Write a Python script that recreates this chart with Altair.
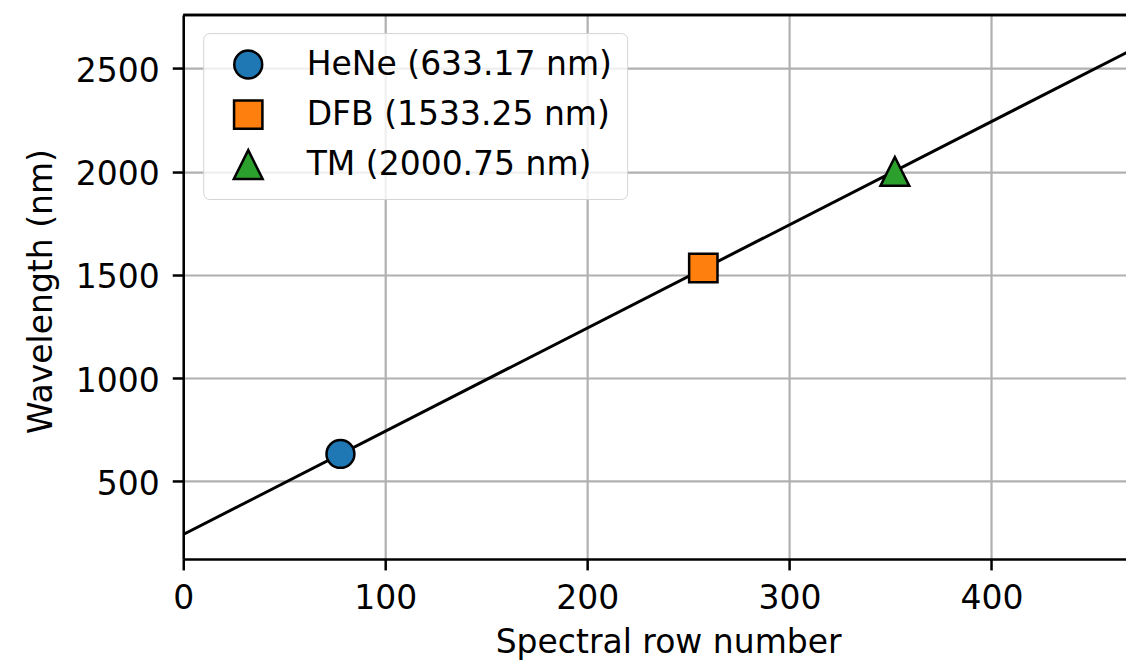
import altair as alt
import pandas as pd

# ---- data ----
names = ["HeNe", "DFB", "TM"]
wavelengths = [633.17, 1533.25, 2000.75]
rows = [77.8, 257.4, 352.2]
fit_rows = [0, 470]
fit_wavelengths = [243, 2592]
x_ticks = [0, 100, 200, 300, 400]
y_ticks = [500, 1000, 1500, 2000, 2500]
colors = ["#1f77b4", "#ff7f0e", "#2ca02c"]
shapes = ["circle", "square", "M0,-1L1,1L-1,1Z"]
sizes = [780, 830, 880]

labels = [f"{n} ({w:.2f} nm)" for n, w in zip(names, wavelengths)]
points = pd.DataFrame({"row": rows, "wl": wavelengths, "label": labels})
fit = pd.DataFrame({"row": fit_rows, "wl": fit_wavelengths})

W, H = 943, 544
FONT = "DejaVu Sans"
FS = 33

xscale = alt.Scale(domain=[0, 466.6], nice=False, zero=False)
yscale = alt.Scale(domain=[124.6, 2757.9], nice=False, zero=False)

common_axis = dict(
    labelFontSize=FS, labelFont=FONT, labelColor="black",
    tickColor="black", tickSize=11, tickWidth=2.5,
    domainColor="black", domainWidth=2.5,
    grid=True, gridColor="#b0b0b0", gridWidth=2.2,
    labelPadding=13, labelFlush=False, labelOverlap=False,
    titleFontSize=FS, titleFont=FONT, titleFontWeight="normal", titleColor="black",
    titleBaseline="alphabetic", titleAlign="center",
)

x_axis = alt.Axis(values=x_ticks, format="d", title="Spectral row number",
                  titleX=485, titleY=94, **common_axis)
y_axis = alt.Axis(values=y_ticks, format="d", title="Wavelength (nm)",
                  titleX=-132, titleY=276, titleAngle=270, labelOffset=3,
                  **common_axis)

X = alt.X("row:Q", scale=xscale, axis=x_axis)
Y = alt.Y("wl:Q", scale=yscale, axis=y_axis)

line = alt.Chart(fit).mark_line(color="black", strokeWidth=3, clip=True).encode(x=X, y=Y)

legend = alt.Legend(
    title=None, orient="none", legendX=20, legendY=18,
    padding=15, rowPadding=11, symbolOffset=13.5, labelOffset=42,
    labelFontSize=FS, labelFont=FONT, labelColor="black", labelLimit=0,
    symbolSize=800, symbolStrokeColor="black", symbolStrokeWidth=2.5,
    fillColor="rgba(255,255,255,0.8)", strokeColor="#d4d4d4",
    cornerRadius=6,
)

pts = alt.Chart(points).mark_point(
    filled=True, opacity=1, stroke="black", strokeWidth=2.5, clip=True
).encode(
    x=X, y=Y,
    color=alt.Color("label:N", scale=alt.Scale(domain=labels, range=colors), legend=legend),
    shape=alt.Shape("label:N", scale=alt.Scale(domain=labels, range=shapes), legend=legend),
    size=alt.Size("label:N", scale=alt.Scale(domain=labels, range=sizes), legend=None),
)

top_spine = alt.Chart(fit).mark_rule(color="black", strokeWidth=2.5).encode(
    x=alt.value(0), x2=alt.value(W), y=alt.value(0)
)

chart = alt.layer(line, pts, top_spine).properties(
    width=W, height=H,
    autosize=alt.AutoSizeParams(type="none"),
    padding={"left": 175.3, "top": 7, "right": 0, "bottom": 102},
    background="white",
).configure_view(stroke=None).configure(font=FONT)

chart.save("out.html", embed_options={"renderer": "svg", "actions": False})
